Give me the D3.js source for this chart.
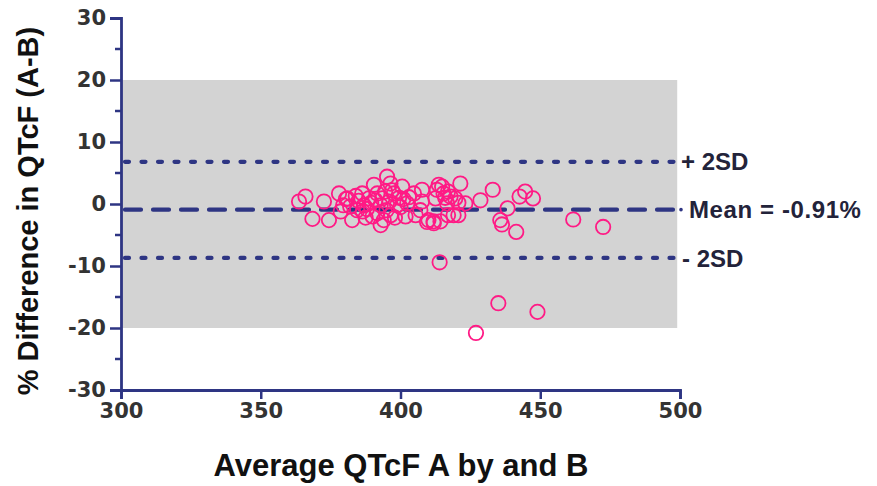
<!DOCTYPE html>
<html>
<head>
<meta charset="utf-8">
<script src="https://cdn.jsdelivr.net/npm/d3@7"></script>
<style>
  body { margin: 0; background: #fff; }
  text { font-family: "Liberation Sans", Arial, sans-serif; font-weight: bold; }
</style>
</head>
<body>
<svg id="container"></svg>
<script>
// average QTcF (x) and % difference (y)
const avgQTcF = [363.7, 366, 368.5, 372.6, 374.4, 378, 378.6, 381, 382.7, 382, 379.5, 380.5, 385, 386.5,
  384.5, 386.3, 386.9, 388.7, 390.5, 391.7, 392.9, 395.2, 396.4, 397.6, 394, 391.7, 392.9, 398.8, 400.6,
  401.8, 402.4, 404.8, 405.4, 407.1, 409.5, 411.9, 413.7, 415.4, 416.7, 417.9, 419, 421.4, 423.2,
  388, 389.5, 390, 393.5, 395, 396, 397, 398, 399.5, 394.5, 391, 387.5, 396.5, 400, 403, 401, 384,
  412.5, 413, 414.9, 417, 416, 419.6, 420.7, 410, 411.8, 414.3, 417, 420.7, 407.7, 407.7, 428.6,
  433, 438.3, 435.7, 436.3, 441.4, 442.6, 444.6, 447.4, 461.8, 472.5, 414, 427, 435, 449];
const pctDiff = [0.4, 1.2, -2.4, 0.4, -2.6, 1.7, -1.2, 0.9, -2.6, -0.4, -0.2, 0.8, 0.5, -1.2,
  -1.0, 1.7, -0.2, 0.9, 3.1, 1.7, -0.2, 4.4, 3.3, 1.7, -2.6, -1.5, -3.4, -0.2, 2.8,
  -2.0, 0.1, 1.7, -1.8, -1.0, -2.9, -3.1, 3.1, 1.7, 0.1, 1.2, -1.8, 3.3, 0.1,
  -0.8, 0.2, -2.0, 0.9, -1.0, 0.4, 2.2, -2.2, 1.0, 2.0, 0.6, -2.2, -1.8, -0.5, 1.1, 0.8, 1.3,
  0.9, 2.3, 2.8, 2.0, 1.0, 0.9, 0.2, -2.6, -2.8, -2.8, -1.8, -1.8, 2.3, 0.4, 0.6,
  2.3, -0.7, -2.6, -3.3, -4.5, 1.2, 2.0, 0.9, -2.5, -3.7, -9.4, -20.8, -16, -17.4];

const meanDiff = -0.91;
const upperSD = 6.8;
const lowerSD = -8.7;
const band = [-20, 20];

const xTicks = [300, 350, 400, 450, 500];
const yTicks = [-30, -20, -10, 0, 10, 20, 30];
const yMinorTicks = [-25, -15, -5, 5, 15, 25];

const W = 877, H = 486;
const navy = "#2e3583";

const svg = d3.select("#container").attr("width", W).attr("height", H);

const xScale = d3.scaleLinear().domain([300, 500]).range([121, 680]);
const yScale = d3.scaleLinear().domain([-30, 30]).range([390, 18]);

// grey band
svg.append("rect")
  .attr("x", xScale(300))
  .attr("y", yScale(band[1]))
  .attr("width", xScale(499) - xScale(300))
  .attr("height", yScale(band[0]) - yScale(band[1]))
  .attr("fill", "#d3d3d3");

// reference lines
const refLines = [
  {v: upperSD, dash: "4 12.5", label: "+ 2SD", lx: 681, ls: 0},
  {v: meanDiff, dash: "16 12", label: "Mean = -0.91%", lx: 689, ls: 0.6},
  {v: lowerSD, dash: "4 12.5", label: "- 2SD", lx: 682, ls: 0}
];
svg.selectAll(".ref")
  .data(refLines)
  .enter()
  .append("line")
  .attr("class", "ref")
  .attr("x1", xScale(300) + 4)
  .attr("x2", d => d.v === meanDiff ? xScale(500) - 2 : xScale(500) + 2)
  .attr("y1", d => yScale(d.v))
  .attr("y2", d => yScale(d.v))
  .attr("stroke", navy)
  .attr("stroke-width", 4.2)
  .attr("stroke-linecap", "round")
  .attr("stroke-dasharray", d => d.dash);

svg.append("circle")
  .attr("cx", xScale(500) + 1).attr("cy", yScale(meanDiff))
  .attr("r", 1.8).attr("fill", navy);

svg.selectAll(".refLabel")
  .data(refLines)
  .enter()
  .append("text")
  .attr("class", "refLabel")
  .attr("x", d => d.lx)
  .attr("y", d => yScale(d.v))
  .attr("dy", "0.36em")
  .attr("font-size", 24)
  .attr("letter-spacing", d => d.ls)
  .attr("fill", "#23233a")
  .text(d => d.label);

// points
svg.append("g")
  .selectAll("circle")
  .data(avgQTcF)
  .enter()
  .append("circle")
  .attr("cx", d => xScale(d))
  .attr("cy", (d, i) => yScale(pctDiff[i]))
  .attr("r", 7.2)
  .attr("fill", "none")
  .attr("stroke", "#ff1a85")
  .attr("stroke-width", 1.8);

// axes
const xAxis = d3.axisBottom(xScale).tickValues(xTicks).tickSize(9).tickPadding(4)
  .tickFormat(d => String(d));
const gX = svg.append("g")
  .attr("transform", "translate(0," + yScale(-30) + ")")
  .call(xAxis);

const yAxis = d3.axisLeft(yScale).tickValues(yTicks).tickSize(11).tickPadding(4)
  .tickFormat(d => String(d));
const gY = svg.append("g")
  .attr("transform", "translate(" + xScale(300) + ",0)")
  .call(yAxis);

svg.append("g")
  .attr("transform", "translate(" + xScale(300) + ",0)")
  .selectAll("line")
  .data(yMinorTicks)
  .enter()
  .append("line")
  .attr("x1", -6).attr("x2", 0)
  .attr("y1", d => yScale(d)).attr("y2", d => yScale(d))
  .attr("stroke", navy).attr("stroke-width", 2.5);

[gX, gY].forEach(g => {
  g.select(".domain").attr("stroke", navy).attr("stroke-width", 2.8);
  g.selectAll(".tick line").attr("stroke", navy).attr("stroke-width", 2.5);
  g.selectAll(".tick text")
    .style("font-size", "21px")
    .style("font-family", "'DejaVu Sans', sans-serif")
    .style("font-weight", "bold")
    .attr("fill", "#333");
});

// axis titles
svg.append("text")
  .attr("x", 401)
  .attr("y", 476)
  .attr("text-anchor", "middle")
  .attr("font-size", 31)
  .attr("fill", "#111")
  .text("Average QTcF A by and B");

svg.append("text")
  .attr("transform", "translate(38," + 211 + ") rotate(-90)")
  .attr("text-anchor", "middle")
  .attr("font-size", 29)
  .attr("fill", "#111")
  .text("% Difference in QTcF (A-B)");
</script>
</body>
</html>
